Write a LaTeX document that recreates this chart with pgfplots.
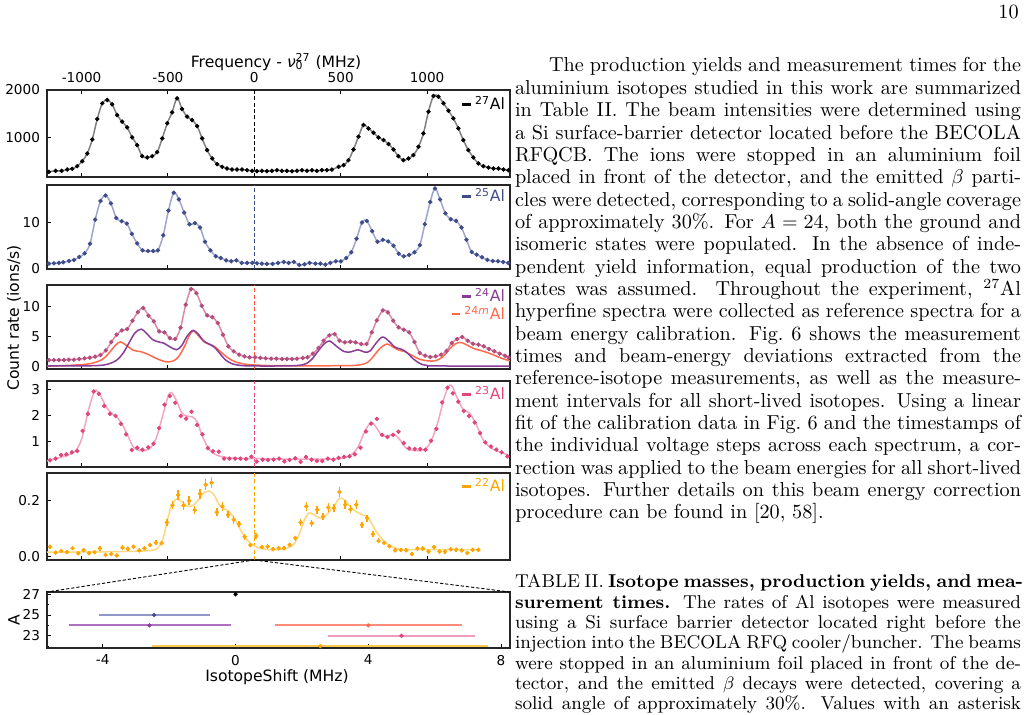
\documentclass[border=0pt]{standalone}
\usepackage{pgfplots}
\pgfplotsset{compat=1.18}
\usepackage{pgfplotstable}
\usepackage{fontspec}
\newfontfamily\dv{DejaVu Sans}
\newcommand\dvs{\dv\fontsize{6.8}{8}\selectfont}
\newcommand\dvl{\dv\fontsize{7.8}{9}\selectfont}
\newcommand\mainfs{\fontsize{10.1}{11.2}\selectfont}
\newcommand\capfs{\fontsize{9.3}{10.15}\selectfont}

\definecolor{c27f}{HTML}{808080}
\definecolor{c25}{HTML}{3E4C8A}
\definecolor{c25f}{HTML}{9CA5CC}
\definecolor{c25l}{HTML}{8F98C8}
\definecolor{c24d}{HTML}{B44C7E}
\definecolor{c24f}{HTML}{D98AA6}
\definecolor{c24}{HTML}{883C96}
\definecolor{c24l}{HTML}{B070C0}
\definecolor{c24m}{HTML}{FF6A4D}
\definecolor{c24ml}{HTML}{FF8C78}
\definecolor{c23}{HTML}{E0457B}
\definecolor{c23f}{HTML}{F2A6C1}
\definecolor{c23l}{HTML}{EE9CBB}
\definecolor{c22}{HTML}{FFA500}
\definecolor{c22f}{HTML}{FFD683}
\definecolor{c22l}{HTML}{FFC94F}

\pgfplotsset{
  spec/.style={
    scale only axis, width=231.5pt, anchor=south west,
    xmin=-1200, xmax=1480,
    xtick={-1000,-500,0,500,1000}, xticklabels={},
    xtick pos=left, ytick pos=left, tick align=inside,
    major tick length=2pt, minor tick length=1.2pt,
    every tick/.style={black, line width=0.5pt},
    axis line style={black!85, line width=0.6pt},
    tick label style={font=\dvs},
  },
  fit/.style={no marks, smooth, tension=0.55, line width=0.75pt},
  dat/.style={only marks, mark=*, mark size=0.9pt},
  zero/.style={dash pattern=on 2pt off 1.2pt, line width=0.55pt},
  iso/.style 2 args={only marks, mark=*, mark size=0.85pt, #1,
    error bars/.cd, x dir=both, x explicit, error mark=none,
    error bar style={#2, line width=0.9pt}},
}

% 27Al reference spectrum
\pgfplotstableread{
f v
-1189 278
-1150 299
-1115 299
-1083 327
-1054 341
-1025 398
-996 503
-967 665
-938 960
-909 1389
-880 1719
-851 1790
-823 1698
-794 1473
-765 1333
-736 1213
-707 1002
-678 840
-649 608
-620 580
-591 608
-562 693
-533 981
-504 1298
-476 1529
-447 1825
-418 1600
-389 1438
-360 1368
-331 1241
-302 981
-273 735
-244 559
-215 440
-186 384
-158 348
-129 327
-100 327
-71 327
-42 313
-13 299
15 292
44 299
73 292
102 299
131 313
160 299
189 299
218 292
247 299
276 313
305 299
334 313
362 299
391 313
420 313
449 327
488 384
517 419
545 524
574 749
603 1016
632 1262
661 1192
690 1101
719 1002
748 946
777 862
806 749
834 608
863 524
892 559
921 630
950 805
979 1087
1008 1543
1037 1874
1066 1860
1095 1719
1124 1565
1152 1403
1181 1192
1210 946
1239 735
1268 580
1297 454
1326 398
1355 369
1384 348
1413 348
1442 327
1471 313
}\dataA

% 25Al
\pgfplotstableread{
f v
-1189 1.08
-1160 1.15
-1131 1.23
-1106 1.37
-1073 1.66
-1044 1.88
-1013 2.53
-982 3.33
-951 5.43
-921 10.72
-890 14.78
-861 16.0
-830 14.28
-799 11.08
-768 10.36
-738 9.85
-709 7.6
-678 5.5
-647 3.98
-616 3.84
-585 3.84
-558 3.98
-527 7.31
-497 12.68
-466 16.6
-437 15.15
-406 12.25
-375 9.71
-344 9.93
-314 8.98
-285 5.87
-254 3.98
-223 2.68
-194 2.31
-163 1.8
-134 1.59
-104 1.8
-73 1.23
-42 1.23
-11 1.23
15 1.15
44 1.08
73 1.01
106 1.01
137 1.23
170 1.44
199 1.23
229 1.44
260 0.79
291 0.94
320 1.23
353 1.08
382 1.08
411 0.86
440 1.23
472 1.59
501 1.59
532 2.31
561 3.55
592 6.52
623 10.07
651 10.43
682 8.18
713 5.87
744 6.30
775 5.94
806 5.00
836 3.26
865 2.68
896 2.97
927 3.55
958 5.14
987 9.71
1018 14.57
1046 17.54
1075 15.14
1106 12.10
1137 10.80
1168 10.43
1199 8.98
1228 6.30
1258 3.62
1287 3.04
1318 2.46
1349 1.88
1380 1.66
1411 1.59
1441 1.44
1470 1.23
}\dataB

% 24Al + 24mAl (sum)
\pgfplotstableread{
f v
-1189 1.1
-1160 1.1
-1131 1.1
-1102 1.1
-1073 1.16
-1044 1.16
-1013 1.27
-982 1.38
-952 1.49
-921 1.66
-890 1.93
-859 2.70
-828 4.07
-797 5.28
-767 6.0
-736 6.22
-705 7.6
-674 9.03
-643 9.69
-612 8.42
-582 7.49
-551 5.83
-520 5.67
-489 4.73
-458 4.57
-427 6.44
-397 10.24
-366 12.82
-335 12.16
-304 10.07
-273 8.47
-243 8.2
-212 7.21
-181 5.28
-150 3.36
-119 2.53
-88 1.98
-57 1.71
-27 1.54
4 1.54
35 1.44
66 1.38
97 1.33
128 1.33
160 1.27
189 1.27
218 1.27
247 1.33
280 1.44
308 1.55
339 2.15
372 3.09
401 4.29
434 5.17
465 5.39
493 4.29
524 4.02
555 4.13
586 4.02
619 3.75
650 3.75
680 5.67
709 7.65
744 9.30
773 8.97
804 7.6
835 6.5
865 6.11
896 5.67
927 4.08
958 2.26
989 1.82
1019 1.6
1050 1.71
1081 1.99
1112 2.59
1143 3.91
1174 4.57
1204 4.9
1235 4.29
1266 3.8
1297 3.64
1328 3.36
1359 2.92
1389 2.54
1420 2.15
1451 1.82
1472 1.5
}\dataC

% 24Al ground-state component
\pgfplotstableread{
f v
-1200 0.12
-1000 0.13
-900 0.2
-850 0.4
-800 1.0
-760 2.2
-720 4.2
-690 5.6
-655 6.2
-620 5.4
-590 4.5
-555 4.1
-525 3.9
-490 3.3
-450 2.8
-420 3.5
-390 5.0
-355 6.0
-325 5.4
-295 4.3
-260 3.7
-230 3.2
-200 2.2
-170 1.2
-130 0.5
-80 0.2
0 0.12
150 0.12
250 0.2
300 0.5
335 1.3
370 2.6
405 3.8
437 4.25
470 3.5
520 2.5
560 2.45
600 2.8
640 2.4
670 2.6
705 3.9
742 4.9
780 4.2
815 3.2
850 2.9
880 2.4
920 1.3
960 0.5
1000 0.2
1060 0.12
1480 0.1
}\dataCg

% 24mAl isomer component
\pgfplotstableread{
f v
-1200 0.1
-1050 0.25
-950 0.5
-880 1.2
-840 2.3
-805 3.5
-775 4.1
-740 3.5
-700 2.7
-660 2.5
-620 2.1
-570 1.4
-530 0.95
-500 0.8
-470 0.95
-440 1.6
-405 3.3
-375 5.2
-352 5.9
-320 5.0
-285 4.0
-240 3.5
-200 2.6
-160 1.6
-110 0.8
-50 0.4
0 0.28
100 0.18
300 0.15
550 0.18
620 0.35
660 0.8
695 1.9
730 3.1
768 3.75
800 3.3
835 2.75
870 2.5
910 1.9
960 1.2
1010 0.95
1050 1.0
1090 1.6
1130 2.9
1165 3.8
1195 4.0
1230 3.6
1270 3.0
1320 2.6
1380 2.0
1430 1.4
1480 0.95
}\dataCm

% 23Al
\pgfplotstableread{
f v
-1183 0.295
-1150 0.358
-1119 0.496
-1088 0.521
-1056 0.597
-1025 0.647
-994 1.41
-963 2.06
-930 2.91
-900 2.82
-869 2.36
-836 2.06
-803 1.98
-772 1.68
-742 1.28
-709 0.685
-678 0.773
-647 0.698
-614 0.786
-583 0.924
-551 1.515
-520 2.41
-489 2.74
-458 2.48
-426 1.98
-395 1.88
-364 2.14
-331 1.64
-300 1.28
-269 0.76
-239 0.635
-206 0.62
-175 0.358
-144 0.358
-111 0.358
-81 0.358
-48 0.345
-17 0.43
14 0.245
48 0.32
79 0.308
112 0.32
143 0.358
174 0.257
204 0.308
237 0.37
268 0.232
299 0.421
332 0.32
362 0.27
393 0.27
426 0.358
457 0.32
488 0.383
520 0.421
551 0.446
582 0.521
615 0.773
646 1.39
676 1.69
709 1.87
740 1.26
771 1.18
804 1.26
834 1.38
865 0.949
896 0.748
929 0.723
960 0.723
991 0.698
1023 1.04
1054 1.49
1087 2.5
1118 3.05
1149 2.84
1181 2.52
1212 2.17
1243 1.98
1276 1.73
1307 1.33
1337 0.974
1370 0.823
1401 0.698
1432 0.597
1465 0.446
}\dataD

\pgfplotstableread{
f v
-1200 0.27
-1100 0.45
-1040 0.62
-1000 1.1
-960 2.2
-930 2.85
-915 2.96
-890 2.75
-855 2.3
-820 2.05
-790 1.9
-760 1.6
-730 1.2
-700 0.8
-660 0.66
-610 0.72
-570 1.1
-530 2.0
-500 2.7
-480 2.87
-450 2.55
-420 2.1
-390 1.97
-360 1.95
-330 1.75
-300 1.2
-260 0.7
-220 0.5
-160 0.4
-100 0.37
0 0.36
200 0.34
400 0.34
500 0.36
560 0.5
600 0.8
640 1.4
675 1.73
700 1.6
735 1.27
770 1.2
805 1.29
840 1.1
880 0.75
935 0.66
985 0.7
1025 1.05
1065 1.8
1100 2.7
1130 3.15
1150 3.05
1175 2.65
1210 2.22
1245 2.1
1285 1.65
1325 1.07
1380 0.72
1470 0.5
}\fitD

% 22Al with statistical uncertainties
\pgfplotstableread{
f v e
-1183 0.035 0.008
-1150 0.014 0.007
-1117 0.020 0.007
-1085 0.016 0.007
-1052 0.030 0.008
-1019 0.012 0.007
-988 0.023 0.007
-957 0.012 0.007
-925 0.016 0.007
-894 0.029 0.008
-861 0.006 0.006
-828 0.009 0.006
-796 0.004 0.006
-763 0.032 0.008
-732 0.028 0.007
-699 0.035 0.008
-666 0.022 0.007
-636 0.030 0.008
-603 0.041 0.008
-570 0.050 0.009
-537 0.048 0.008
-506 0.122 0.012
-474 0.183 0.015
-441 0.220 0.017
-410 0.182 0.015
-377 0.199 0.016
-345 0.166 0.014
-314 0.224 0.017
-281 0.256 0.019
-248 0.263 0.019
-217 0.158 0.014
-185 0.179 0.015
-152 0.149 0.013
-119 0.131 0.013
-88 0.116 0.012
-56 0.070 0.010
-23 0.041 0.008
10 0.074 0.010
44 0.034 0.008
77 0.036 0.008
108 0.026 0.007
141 0.030 0.008
172 0.030 0.008
204 0.042 0.008
237 0.066 0.009
268 0.122 0.012
301 0.179 0.015
332 0.119 0.012
364 0.167 0.014
397 0.143 0.013
428 0.175 0.015
461 0.173 0.015
493 0.230 0.018
526 0.185 0.015
557 0.169 0.014
590 0.185 0.015
623 0.113 0.012
653 0.137 0.013
686 0.080 0.010
719 0.056 0.009
752 0.049 0.008
782 0.037 0.008
815 0.022 0.007
848 0.024 0.007
879 0.022 0.007
912 0.009 0.006
944 0.029 0.008
975 0.029 0.008
1008 0.018 0.007
1041 0.034 0.008
1072 0.018 0.007
1104 0.018 0.007
1137 0.026 0.007
1168 0.025 0.007
1201 0.022 0.007
1233 0.013 0.007
1264 0.024 0.007
1297 0.024 0.007
}\dataE

\pgfplotstableread{
f v
-1200 0.016
-900 0.017
-700 0.019
-600 0.022
-560 0.030
-530 0.060
-505 0.125
-480 0.180
-450 0.205
-420 0.195
-380 0.178
-340 0.190
-300 0.222
-265 0.234
-235 0.222
-205 0.186
-175 0.170
-150 0.163
-115 0.135
-80 0.095
-50 0.065
-20 0.046
20 0.033
70 0.026
130 0.025
190 0.030
230 0.045
260 0.080
290 0.130
315 0.155
345 0.150
380 0.137
420 0.150
460 0.180
495 0.208
525 0.200
555 0.178
590 0.160
625 0.149
660 0.137
700 0.095
740 0.062
780 0.040
820 0.030
880 0.025
1300 0.025
}\fitE

\newcommand\leg[2]{\textcolor{#1}{\rule[0.28em]{4.2pt}{1.1pt}}\hspace{2.2pt}\textcolor{#1}{#2}}
\newcommand\tl[3]{\node[anchor=base west,inner sep=0pt,outer sep=0pt,font=\mainfs] at (#1) {\makebox[#2][s]{#3}};}
\newcommand\cl[2]{\node[anchor=base west,inner sep=0pt,outer sep=0pt,font=\capfs] at (#1) {\makebox[253pt][s]{#2}};}

\begin{document}
\begin{tikzpicture}
\path[use as bounding box] (0,0) rectangle (514.5pt,357.5pt);

% ---------- 27Al ----------
\begin{axis}[spec, at={(23.5pt,269pt)}, height=43.5pt,
  ymin=170, ymax=2000, ytick={1000,2000}, yticklabels={1000,2000},
  xtick pos=both, xticklabel pos=right, xticklabels={-1000,-500,0,500,1000}]
  \addplot[zero, black] coordinates {(0,170) (0,2000)};
  \addplot[fit, c27f] table {\dataA};
  \addplot[dat, black] table {\dataA};
  \node[anchor=east, font=\dvl, inner sep=0pt] at (rel axis cs:0.99,0.85) {\leg{black}{\textsuperscript{27}Al}};
\end{axis}

% ---------- 25Al ----------
\begin{axis}[spec, at={(23.5pt,223pt)}, height=42pt,
  ymin=-0.1, ymax=18.3, ytick={0,10}, yticklabels={0,10}]
  \addplot[zero, c25] coordinates {(0,-0.1) (0,18.3)};
  \addplot[fit, c25f] table {\dataB};
  \addplot[dat, c25] table {\dataB};
  \node[anchor=east, font=\dvl, inner sep=0pt] at (rel axis cs:0.99,0.88) {\leg{c25}{\textsuperscript{25}Al}};
\end{axis}

% ---------- 24Al / 24mAl ----------
\begin{axis}[spec, at={(23.5pt,173pt)}, height=42pt,
  ymin=-0.38, ymax=13.5, ytick={0,5,10}, yticklabels={0,5,10}]
  \addplot[zero, c24m!80!red] coordinates {(0,-0.38) (0,13.5)};
  \addplot[fit, c24m] table {\dataCm};
  \addplot[fit, c24] table {\dataCg};
  \addplot[fit, c24f] table {\dataC};
  \addplot[dat, c24d] table {\dataC};
  \node[anchor=east, font=\dvl, inner sep=0pt] at (rel axis cs:0.99,0.88) {\leg{c24}{\textsuperscript{24}Al}};
  \node[anchor=east, font=\dvl, inner sep=0pt] at (rel axis cs:0.99,0.667) {\leg{c24m}{\textsuperscript{24\textit{m}}Al}};
\end{axis}

% ---------- 23Al ----------
\begin{axis}[spec, at={(23.5pt,124pt)}, height=43pt,
  ymin=0.04, ymax=3.31, ytick={1,2,3}, yticklabels={1,2,3}]
  \addplot[zero, c23] coordinates {(0,0.04) (0,3.31)};
  \addplot[fit, c23f] table {\fitD};
  \addplot[dat, c23] table {\dataD};
  \node[anchor=east, font=\dvl, inner sep=0pt] at (rel axis cs:0.99,0.86) {\leg{c23}{\textsuperscript{23}Al}};
\end{axis}

% ---------- 22Al ----------
\begin{axis}[spec, at={(23.5pt,77.5pt)}, height=43.5pt,
  ymin=-0.012, ymax=0.298, ytick={0,0.2}, yticklabels={0.0,0.2}]
  \addplot[zero, c22] coordinates {(0,-0.012) (0,0.298)};
  \addplot[fit, c22f] table {\fitE};
  \addplot[dat, c22, error bars/.cd, y dir=both, y explicit, error mark=none,
    error bar style={c22, line width=0.7pt}] table[y error=e] {\dataE};
  \node[anchor=east, font=\dvl, inner sep=0pt] at (rel axis cs:0.99,0.862) {\leg{c22}{\textsuperscript{22}Al}};
  \coordinate (z5) at (axis cs:0,-0.012);
\end{axis}

% ---------- isotope shifts ----------
\begin{axis}[name=p6, at={(23.5pt,33.5pt)}, anchor=south west, scale only axis,
  width=231.5pt, height=28pt,
  xmin=-5.68, xmax=8.27, ymin=21.82, ymax=27.22,
  xtick={-4,0,4,8}, xticklabels={-4,0,4,8},
  ytick={23,25,27}, yticklabels={23,25,27}, minor ytick={22,24,26},
  xtick pos=left, ytick pos=left, tick align=inside,
  major tick length=2pt, minor tick length=1.2pt,
  every tick/.style={black, line width=0.5pt},
  axis line style={black!85, line width=0.6pt},
  tick label style={font=\dvs}]
  \addplot[iso={c22}{c22l}] coordinates {(2.55,22) +- (5.06,0)};
  \addplot[iso={c23}{c23l}] coordinates {(5.0,23) +- (2.2,0)};
  \addplot[iso={c24m}{c24ml}] coordinates {(4.0,24) +- (2.82,0)};
  \addplot[iso={c24}{c24l}] coordinates {(-2.59,24) +- (2.44,0)};
  \addplot[iso={c25}{c25l}] coordinates {(-2.45,25) +- (1.67,0)};
  \addplot[only marks, mark=*, mark size=0.85pt, black] coordinates {(0,27)};
\end{axis}

\draw[dash pattern=on 1.6pt off 1pt, line width=0.45pt] (z5) -- (p6.north west);
\draw[dash pattern=on 1.6pt off 1pt, line width=0.45pt] (z5) -- (p6.north east);

\begin{scope}[x=0.5pt, y=-0.5pt, yshift=357.5pt]
  % axis titles
  \node[font=\dvl, inner sep=0.5pt] at (276,62) {Frequency - {\itshape ν}\makebox[0pt][l]{\textsubscript{0}}\textsuperscript{27} (MHz)};
  \node[font=\dvl, rotate=90] at (14,318) {Count rate (ions/s)};
  \node[font=\dvl, rotate=90] at (14,620) {A};
  \node[font=\dvl] at (277,677) {IsotopeShift (MHz)};

  % page number
  \node[anchor=base east, inner sep=0pt, font=\mainfs] at (1019,19) {10};

  % body text
  \tl{549,72}{236pt}{The production yields and measurement times for the}
  \tl{515,94.35}{253pt}{aluminium isotopes studied in this work are summarized}
  \tl{515,116.7}{253pt}{in Table~II. The beam intensities were determined using}
  \tl{515,139.05}{253pt}{a Si surface-barrier detector located before the BECOLA}
  \tl{515,161.4}{253pt}{RFQCB. The ions were stopped in an aluminium foil}
  \tl{515,183.75}{253pt}{placed in front of the detector, and the emitted $\beta$ parti-}
  \tl{515,206.1}{253pt}{cles were detected, corresponding to a solid-angle coverage}
  \tl{515,228.45}{253pt}{of approximately 30\%. For $A=24$, both the ground and}
  \tl{515,250.8}{253pt}{isomeric states were populated. In the absence of inde-}
  \tl{515,273.15}{253pt}{pendent yield information, equal production of the two}
  \tl{515,295.5}{253pt}{states was assumed. Throughout the experiment, $^{27}$Al}
  \tl{515,317.85}{253pt}{hyperfine spectra were collected as reference spectra for a}
  \tl{515,340.2}{253pt}{beam energy calibration. Fig.~6 shows the measurement}
  \tl{515,362.55}{253pt}{times and beam-energy deviations extracted from the}
  \tl{515,384.9}{253pt}{reference-isotope measurements, as well as the measure-}
  \tl{515,407.25}{253pt}{ment intervals for all short-lived isotopes. Using a linear}
  \tl{515,429.6}{253pt}{fit of the calibration data in Fig.~6 and the timestamps of}
  \tl{515,451.95}{253pt}{the individual voltage steps across each spectrum, a cor-}
  \tl{515,474.3}{253pt}{rection was applied to the beam energies for all short-lived}
  \tl{515,496.65}{253pt}{isotopes. Further details on this beam energy correction}
  \node[anchor=base west,inner sep=0pt,font=\mainfs] at (515,519) {procedure can be found in [20, 58].};

  % table caption
  \cl{515,588}{TABLE II. \textbf{Isotope masses, production yields, and mea-}}
  \cl{515,608.3}{\textbf{surement times.} The rates of Al isotopes were measured}
  \cl{515,628.6}{using a Si surface barrier detector located right before the}
  \cl{515,648.9}{injection into the BECOLA RFQ cooler/buncher. The beams}
  \cl{515,669.2}{were stopped in an aluminium foil placed in front of the de-}
  \cl{515,689.5}{tector, and the emitted $\beta$ decays were detected, covering a}
  \cl{515,709.8}{solid angle of approximately 30\%. Values with an asterisk}
\end{scope}
\end{tikzpicture}
\end{document}
